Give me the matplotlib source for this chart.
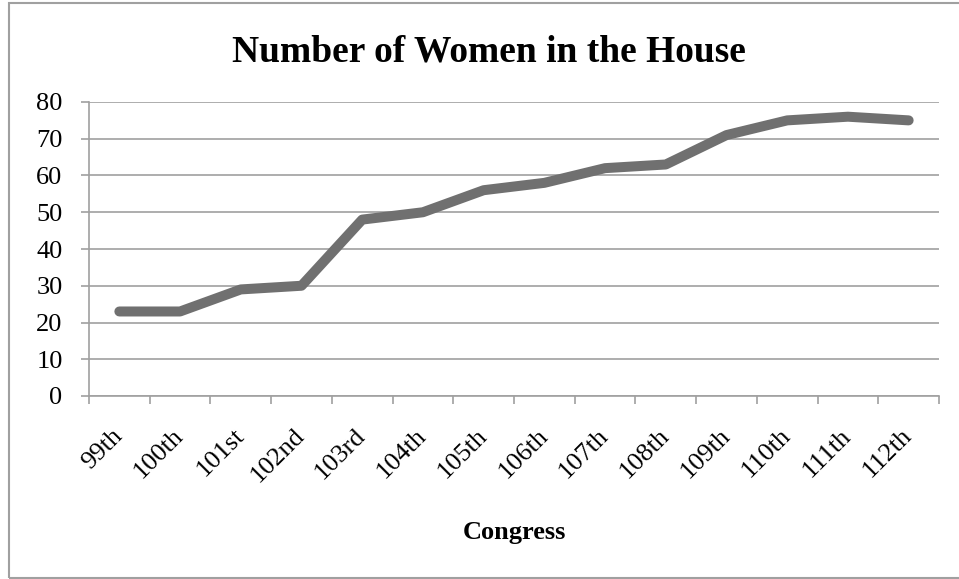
import matplotlib
matplotlib.use("Agg")
import matplotlib.pyplot as plt
from matplotlib.patches import Rectangle

congress = ["99th", "100th", "101st", "102nd", "103rd", "104th", "105th",
            "106th", "107th", "108th", "109th", "110th", "111th", "112th"]
women = [23, 23, 29, 30, 48, 50, 56, 58, 62, 63, 71, 75, 76, 75]
yticks = [0, 10, 20, 30, 40, 50, 60, 70, 80]

plt.rcParams['font.family'] = ['Liberation Serif', 'DejaVu Serif']

W, H = 959, 579
fig = plt.figure(figsize=(W / 100, H / 100), dpi=100)
fig.patch.set_facecolor('white')

# outer border
fig.add_artist(Rectangle((9 / W, 1 - 578 / H), (960 - 9) / W, (578 - 3) / H,
                         transform=fig.transFigure, fill=False,
                         edgecolor='#a0a0a0', linewidth=1.5, clip_on=False))

left, right, top, bottom = 89, 939, 102, 396
ax = fig.add_axes([left / W, 1 - bottom / H, (right - left) / W, (bottom - top) / H])

x = list(range(len(congress)))
ax.plot(x, women, color='#707070', linewidth=7.2, solid_capstyle='round',
        solid_joinstyle='round', zorder=3)

ax.set_xlim(-0.5, len(congress) - 0.5)
ax.set_ylim(0, 80)
ax.set_yticks(yticks)
ax.set_yticklabels([str(v) for v in yticks], fontsize=19)
ax.yaxis.grid(True, color='#a0a0a0', linewidth=1.2)
ax.set_axisbelow(True)

ax.set_xticks([i - 0.5 for i in range(len(congress) + 1)])
ax.set_xticklabels([])
ax.set_xticks(x, minor=True)
ax.set_xticklabels(congress, minor=True, fontsize=19, rotation=45,
                   ha='right', va='center', rotation_mode='anchor')
ax.tick_params(axis='x', which='minor', length=0, pad=26)
ax.tick_params(axis='x', which='major', length=6, width=1.2, color='#a0a0a0')
ax.tick_params(axis='y', length=6, width=1.2, color='#a0a0a0', pad=13)

for s in ['top', 'right']:
    ax.spines[s].set_visible(False)
for s in ['left', 'bottom']:
    ax.spines[s].set_color('#a0a0a0')
    ax.spines[s].set_linewidth(1.2)

fig.text(489 / W, 1 - 52 / H, "Number of Women in the House", ha='center',
         va='center', fontsize=27, fontweight='bold')
fig.text(514 / W, 1 - 533 / H, "Congress", ha='center', va='center',
         fontsize=19, fontweight='bold')

fig.savefig("out.png", dpi=100)
